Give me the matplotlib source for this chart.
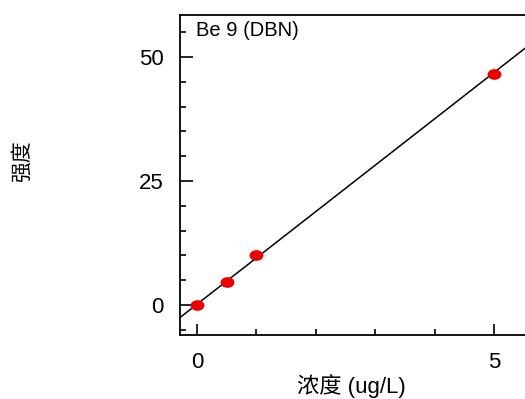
import matplotlib
matplotlib.use("Agg")
import matplotlib.pyplot as plt
import numpy as np
from matplotlib.path import Path

plt.rcParams['font.family'] = ['Liberation Sans', 'Noto Sans CJK SC', 'DejaVu Sans']

# calibration data
conc = [0.0, 0.5, 1.0, 5.0]
intensity = [0.1, 4.6, 10.0, 46.6]
fit_slope = 9.35
fit_intercept = 0.15
x_ticks = [0, 5]
y_ticks = [0, 25, 50]

fig = plt.figure(figsize=(5.25, 3.99), dpi=100)
ax = fig.add_axes([180 / 525, 64 / 399, 345 / 525, 320 / 399])

xl = (-0.286, 5.522)
yl = (-6.05, 58.5)
xf = np.array(xl)
ax.plot(xf, fit_slope * xf + fit_intercept, color='black', lw=1.1, zorder=2)

# slightly wide ellipse marker
circ = Path.unit_circle()
ell = Path(circ.vertices * np.array([1.3, 1.0]), circ.codes)
ax.plot(conc, intensity, linestyle='none', marker=ell, markersize=10,
        color='#ee0000', markeredgewidth=0, zorder=3)

ax.set_xlim(xl)
ax.set_ylim(yl)
ax.set_xticks(x_ticks)
ax.set_xticks([1, 2, 3, 4], minor=True)
ax.set_yticks(y_ticks)
ax.set_yticks([-5, 5, 10, 15, 20, 30, 35, 40, 45, 55], minor=True)
ax.tick_params(which='both', direction='in', width=1.2, labelsize=16)
ax.tick_params(axis='x', which='major', length=8, pad=12)
ax.tick_params(axis='y', which='major', length=9, pad=12)
ax.tick_params(which='minor', length=4)
ax.spines['right'].set_visible(False)
for s in ['left', 'top', 'bottom']:
    ax.spines[s].set_linewidth(1.3)

fig.text(196 / 525, 1 - 30 / 399, 'Be 9 (DBN)', fontsize=14.5, va='center', ha='left')

fig.text(351 / 525, 1 - 386 / 399, '浓度 (ug/L)', ha='center', va='center', fontsize=16)
fig.text(22 / 525, 1 - 161 / 399, '强度', ha='center', va='center', fontsize=15, rotation=90)

fig.savefig('out.png', dpi=100)
